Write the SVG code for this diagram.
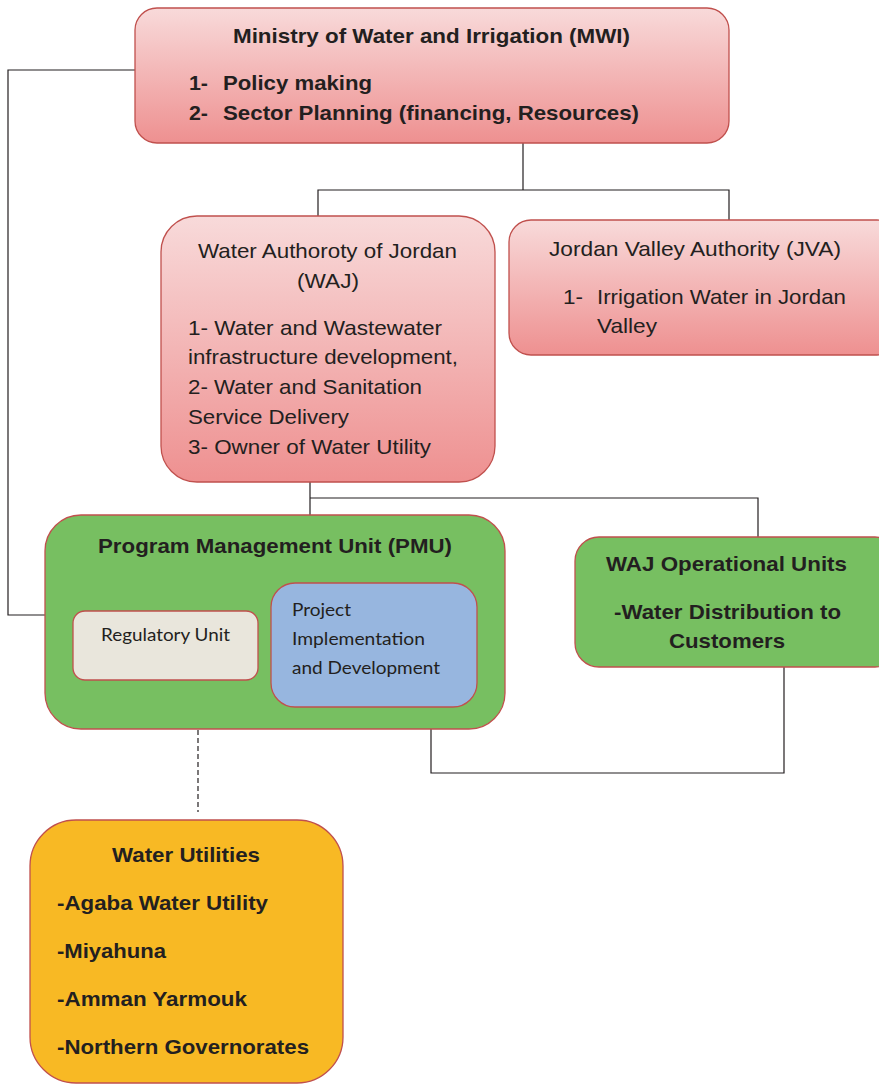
<svg xmlns="http://www.w3.org/2000/svg" width="879" height="1085" viewBox="0 0 879 1085">
<defs>
<linearGradient id="pink" x1="0" y1="0" x2="0" y2="1">
<stop offset="0" stop-color="#f8dada"/>
<stop offset="1" stop-color="#ee9090"/>
</linearGradient>
<style>
.box{stroke:#c0504d;stroke-width:1.3}
.pink{fill:url(#pink)}
.green{fill:#77bf61}
.t{font-family:'Liberation Sans',Arimo,Arial,Helvetica,sans-serif;fill:#231f20;font-size:21px}
.b{font-weight:bold}
.c{font-family:Lato,'Open Sans',sans-serif;fill:#231f20;font-size:18px}
.ln{fill:none;stroke:#231f20;stroke-width:1.2}
</style>
</defs>
<rect width="879" height="1085" fill="#ffffff"/>
<g id="connectors">
<polyline class="ln" points="523,143 523,190"/>
<polyline class="ln" points="318,216 318,190 729,190 729,220"/>
<polyline class="ln" points="135,70 8,70 8,615 45,615"/>
<polyline class="ln" points="310,482 310,515"/>
<polyline class="ln" points="310,498 758,498 758,537"/>
<polyline class="ln" points="431,729 431,773 784,773 784,667"/>
<line class="ln" x1="198" y1="730" x2="198" y2="812" stroke-dasharray="5,3"/>
</g>
<g id="mwi">
<rect class="box pink" x="135" y="8" width="594" height="135" rx="22"/>
<text class="t b" x="233" y="43" textLength="397" lengthAdjust="spacingAndGlyphs">Ministry of Water and Irrigation (MWI)</text>
<text class="t b" x="189" y="90" textLength="19" lengthAdjust="spacingAndGlyphs">1-</text>
<text class="t b" x="223" y="90" textLength="149" lengthAdjust="spacingAndGlyphs">Policy making</text>
<text class="t b" x="189" y="120" textLength="19" lengthAdjust="spacingAndGlyphs">2-</text>
<text class="t b" x="223" y="120" textLength="416" lengthAdjust="spacingAndGlyphs">Sector Planning (financing, Resources)</text>
</g>
<g id="waj">
<rect class="box pink" x="161" y="216" width="334" height="266" rx="36"/>
<text class="t" x="198" y="258" textLength="259" lengthAdjust="spacingAndGlyphs">Water Authoroty of Jordan</text>
<text class="t" x="297" y="288" textLength="62" lengthAdjust="spacingAndGlyphs">(WAJ)</text>
<text class="t" x="188" y="335" textLength="254" lengthAdjust="spacingAndGlyphs">1- Water and Wastewater</text>
<text class="t" x="188" y="364" textLength="270" lengthAdjust="spacingAndGlyphs">infrastructure development,</text>
<text class="t" x="188" y="394" textLength="234" lengthAdjust="spacingAndGlyphs">2- Water and Sanitation</text>
<text class="t" x="188" y="424" textLength="161" lengthAdjust="spacingAndGlyphs">Service Delivery</text>
<text class="t" x="188" y="454" textLength="243" lengthAdjust="spacingAndGlyphs">3- Owner of Water Utility</text>
</g>
<g id="jva">
<rect class="box pink" x="509" y="220" width="390" height="135" rx="22"/>
<text class="t" x="549" y="256" textLength="292" lengthAdjust="spacingAndGlyphs">Jordan Valley Authority (JVA)</text>
<text class="t" x="563" y="304" textLength="20" lengthAdjust="spacingAndGlyphs">1-</text>
<text class="t" x="597" y="304" textLength="249" lengthAdjust="spacingAndGlyphs">Irrigation Water in Jordan</text>
<text class="t" x="597" y="333" textLength="60" lengthAdjust="spacingAndGlyphs">Valley</text>
</g>
<g id="pmu">
<rect class="box green" x="45" y="515" width="460" height="214" rx="36"/>
<text class="t b" x="98" y="553" font-size="20" textLength="354" lengthAdjust="spacingAndGlyphs">Program Management Unit (PMU)</text>
</g>
<g id="regulatory">
<rect class="box" x="73" y="611" width="185" height="69" rx="12" fill="#e9e6dc"/>
<text class="c" x="101" y="641" textLength="129" lengthAdjust="spacingAndGlyphs">Regulatory Unit</text>
</g>
<g id="project">
<rect class="box" x="271" y="583" width="206" height="124" rx="24" fill="#97b6df"/>
<text class="c" x="292" y="616" textLength="59" lengthAdjust="spacingAndGlyphs">Project</text>
<text class="c" x="292" y="645" textLength="133" lengthAdjust="spacingAndGlyphs">Implementation</text>
<text class="c" x="292" y="674" textLength="148" lengthAdjust="spacingAndGlyphs">and Development</text>
</g>
<g id="wajops">
<rect class="box green" x="575" y="537" width="324" height="130" rx="24"/>
<text class="t b" x="606" y="571" textLength="241" lengthAdjust="spacingAndGlyphs">WAJ Operational Units</text>
<text class="t b" x="614" y="619" textLength="227" lengthAdjust="spacingAndGlyphs">-Water Distribution to</text>
<text class="t b" x="669" y="648" textLength="116" lengthAdjust="spacingAndGlyphs">Customers</text>
</g>
<g id="utilities">
<rect class="box" x="30" y="820" width="313" height="263" rx="46" fill="#f8b924"/>
<text class="t b" x="112" y="862" textLength="148" lengthAdjust="spacingAndGlyphs">Water Utilities</text>
<text class="t b" x="57" y="910" textLength="211" lengthAdjust="spacingAndGlyphs">-Agaba Water Utility</text>
<text class="t b" x="57" y="958" textLength="109" lengthAdjust="spacingAndGlyphs">-Miyahuna</text>
<text class="t b" x="57" y="1006" textLength="190" lengthAdjust="spacingAndGlyphs">-Amman Yarmouk</text>
<text class="t b" x="57" y="1054" textLength="252" lengthAdjust="spacingAndGlyphs">-Northern Governorates</text>
</g>
</svg>
